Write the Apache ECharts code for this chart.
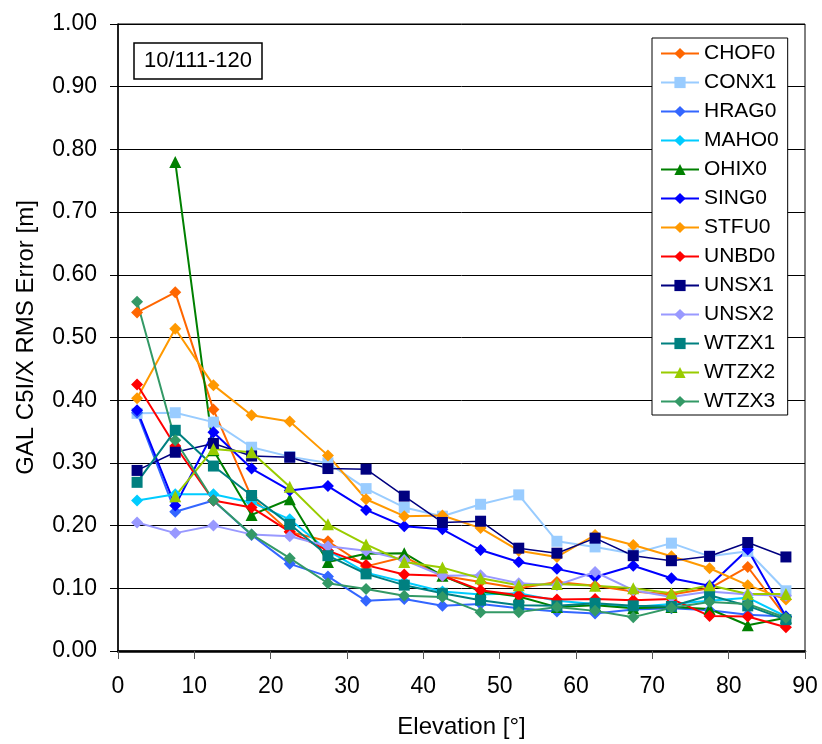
<!DOCTYPE html>
<html>
<head>
<meta charset="utf-8">
<script src="https://cdn.jsdelivr.net/npm/echarts@6/dist/echarts.min.js"></script>
<style>
  html, body { margin: 0; padding: 0; background: #fff; }
  #main { width: 822px; height: 744px; }
</style>
</head>
<body>
<div id="main"></div>
<script>
// elevation bin centres
var elevations = [2.5, 7.5, 12.5, 17.5, 22.5, 27.5, 32.5, 37.5, 42.5, 47.5, 52.5, 57.5, 62.5, 67.5, 72.5, 77.5, 82.5, 87.5];
var yTicks = [0, 0.1, 0.2, 0.3, 0.4, 0.5, 0.6, 0.7, 0.8, 0.9, 1.0];

var CHOF0 = [0.54, 0.572, 0.385, 0.245, 0.19, 0.175, 0.135, 0.15, 0.12, 0.11, 0.10, 0.11, 0.104, 0.095, 0.09, 0.10, 0.134, 0.054];
var CONX1 = [0.379, 0.38, 0.365, 0.325, 0.31, 0.30, 0.259, 0.229, 0.215, 0.234, 0.249, 0.175, 0.166, 0.155, 0.172, 0.151, 0.159, 0.096];
var HRAG0 = [0.38, 0.222, 0.24, 0.185, 0.139, 0.119, 0.08, 0.083, 0.072, 0.075, 0.068, 0.063, 0.06, 0.066, 0.068, 0.065, 0.058, 0.055];
var MAHO0 = [0.24, 0.25, 0.25, 0.237, 0.21, 0.16, 0.125, 0.11, 0.095, 0.09, 0.092, 0.08, 0.075, 0.07, 0.075, 0.08, 0.085, 0.055];
var OHIX0 = [null, 0.78, 0.32, 0.217, 0.242, 0.142, 0.155, 0.156, 0.12, 0.095, 0.087, 0.07, 0.073, 0.068, 0.07, 0.067, 0.041, 0.053];
var SING0 = [0.384, 0.232, 0.349, 0.291, 0.256, 0.263, 0.225, 0.199, 0.194, 0.161, 0.142, 0.131, 0.118, 0.136, 0.116, 0.104, 0.162, 0.055];
var STFU0 = [0.403, 0.514, 0.424, 0.376, 0.366, 0.312, 0.242, 0.215, 0.216, 0.196, 0.16, 0.15, 0.185, 0.169, 0.151, 0.132, 0.105, 0.082];
var UNBD0 = [0.425, 0.327, 0.24, 0.229, 0.19, 0.16, 0.137, 0.122, 0.12, 0.097, 0.089, 0.082, 0.083, 0.081, 0.083, 0.056, 0.055, 0.038];
var UNSX1 = [0.288, 0.317, 0.331, 0.311, 0.309, 0.291, 0.29, 0.247, 0.205, 0.207, 0.164, 0.156, 0.18, 0.152, 0.144, 0.151, 0.173, 0.15];
var UNSX2 = [0.205, 0.188, 0.2, 0.186, 0.183, 0.167, 0.16, 0.145, 0.12, 0.121, 0.108, 0.105, 0.126, 0.097, 0.086, 0.095, 0.09, 0.088];
var WTZX1 = [0.269, 0.352, 0.295, 0.248, 0.202, 0.152, 0.123, 0.105, 0.092, 0.081, 0.073, 0.072, 0.076, 0.072, 0.071, 0.089, 0.072, 0.05];
var WTZX2 = [null, 0.247, 0.322, 0.317, 0.262, 0.202, 0.17, 0.142, 0.133, 0.116, 0.105, 0.107, 0.104, 0.1, 0.092, 0.105, 0.091, 0.091];
var WTZX3 = [0.557, 0.336, 0.24, 0.186, 0.148, 0.108, 0.099, 0.088, 0.086, 0.062, 0.062, 0.07, 0.064, 0.054, 0.069, 0.078, 0.075, 0.053];

var stations = [
  ['CHOF0', CHOF0, '#FF6600', 'diamond'],
  ['CONX1', CONX1, '#99CCFF', 'rect'],
  ['HRAG0', HRAG0, '#3366FF', 'diamond'],
  ['MAHO0', MAHO0, '#00CCFF', 'diamond'],
  ['OHIX0', OHIX0, '#008000', 'triangle'],
  ['SING0', SING0, '#0000FF', 'diamond'],
  ['STFU0', STFU0, '#FF9900', 'diamond'],
  ['UNBD0', UNBD0, '#FF0000', 'diamond'],
  ['UNSX1', UNSX1, '#000080', 'rect'],
  ['UNSX2', UNSX2, '#9999FF', 'diamond'],
  ['WTZX1', WTZX1, '#008080', 'rect'],
  ['WTZX2', WTZX2, '#99CC00', 'triangle'],
  ['WTZX3', WTZX3, '#339966', 'diamond']
];

var font = 'Arial, "Liberation Sans", sans-serif';

var series = stations.map(function (s) {
  var pts = [];
  for (var i = 0; i < elevations.length; i++) {
    if (s[1][i] != null) pts.push([elevations[i], s[1][i]]);
  }
  return {
    name: s[0],
    type: 'line',
    data: pts,
    symbol: s[3],
    symbolSize: s[3] == 'rect' ? 11 : 12,
    lineStyle: { color: s[2], width: s[0] == 'UNSX1' ? 1.5 : 2 },
    itemStyle: { color: s[2] },
    emphasis: { disabled: true }
  };
});

var myChart = echarts.init(document.getElementById('main'));
myChart.setOption({
  animation: false,
  backgroundColor: '#fff',
  textStyle: { fontFamily: font },
  title: {
    text: '10/111-120',
    left: 134,
    top: 43,
    padding: [7, 10, 7, 10],
    borderColor: '#000',
    borderWidth: 1.5,
    backgroundColor: '#fff',
    textStyle: { fontFamily: font, fontSize: 22, lineHeight: 22, fontWeight: 'normal', color: '#000' }
  },
  legend: {
    orient: 'vertical',
    left: 652,
    top: 38,
    padding: [5, 9, 3, 8],
    itemWidth: 38,
    itemHeight: 14,
    itemGap: 8,
    borderColor: '#000',
    borderWidth: 1,
    backgroundColor: '#fff',
    textStyle: { fontFamily: font, fontSize: 21, lineHeight: 21, color: '#000' },
    data: stations.map(function (s) { return s[0]; })
  },
  grid: {
    left: 118,
    top: 24,
    right: 17,
    bottom: 92,
    show: true,
    borderColor: '#000',
    borderWidth: 1
  },
  xAxis: {
    type: 'value',
    min: 0,
    max: 90,
    interval: 10,
    name: 'Elevation [°]',
    nameLocation: 'middle',
    nameGap: 64,
    nameTextStyle: { fontFamily: font, fontSize: 24, color: '#000' },
    axisLine: { show: true, lineStyle: { color: '#000', width: 2.5 } },
    axisTick: { show: true, inside: false, length: 8, lineStyle: { color: '#555', width: 1 } },
    axisLabel: { fontFamily: font, fontSize: 23, color: '#000', margin: 24 },
    splitLine: { show: false }
  },
  yAxis: {
    type: 'value',
    min: yTicks[0],
    max: yTicks[yTicks.length - 1],
    interval: 0.1,
    name: 'GAL C5I/X RMS Error [m]',
    nameLocation: 'middle',
    nameGap: 80,
    nameTextStyle: { fontFamily: font, fontSize: 24, color: '#000' },
    axisLine: { show: true, lineStyle: { color: '#000', width: 1.5 } },
    axisTick: { show: true, inside: false, length: 8, lineStyle: { color: '#000', width: 1 } },
    axisLabel: {
      fontFamily: font, fontSize: 23, color: '#000', margin: 21,
      formatter: function (v) { return v.toFixed(2); }
    },
    splitLine: { show: true, lineStyle: { color: '#000', width: 1 } }
  },
  series: series
});
</script>
</body>
</html>
